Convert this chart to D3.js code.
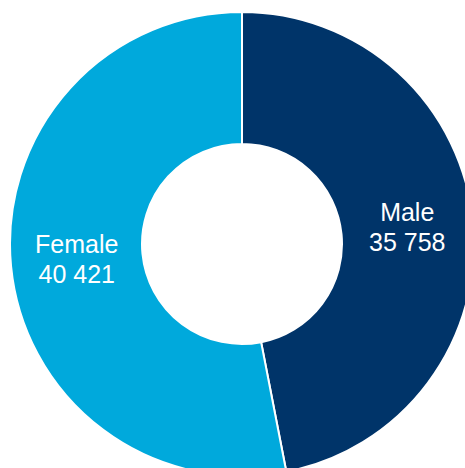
<!DOCTYPE html>
<html><head><meta charset="utf-8">
<script src="https://cdn.jsdelivr.net/npm/d3@7"></script>
<style>html,body{margin:0;padding:0;background:#fff;overflow:hidden}</style>
</head><body>
<svg id="c" width="465" height="468"></svg>
<script>
const categories = ["Male", "Female"];
const values = [35758, 40421];
const labels = ["35 758", "40 421"];
const colors = ["#003469", "#00A9DC"];

const svg = d3.select("#c");
const cx = 242, cy = 244, rOuter = 232, rInner = 100;
const g = svg.append("g").attr("transform", `translate(${cx},${cy})`);
const data = categories.map((c, i) => ({cat: c, value: values[i], label: labels[i], color: colors[i]}));
const pie = d3.pie().value(d => d.value).sort(null);
const arc = d3.arc().innerRadius(rInner).outerRadius(rOuter);
const arcs = pie(data);
g.selectAll("path").data(arcs).enter().append("path")
  .attr("d", arc).attr("fill", d => d.data.color)
  .attr("stroke", "#fff").attr("stroke-width", 2);
const lab = g.selectAll("text").data(arcs).enter().append("text")
  .attr("transform", d => `translate(${arc.centroid(d)})`)
  .attr("text-anchor", "middle")
  .attr("fill", "#fff")
  .style("font-family", "Liberation Sans, Arial, sans-serif")
  .style("font-size", "25px");
lab.append("tspan").attr("x", 0).attr("y", -7).text(d => d.data.cat);
lab.append("tspan").attr("x", 0).attr("y", 23).text(d => d.data.label);
</script>
</body></html>
